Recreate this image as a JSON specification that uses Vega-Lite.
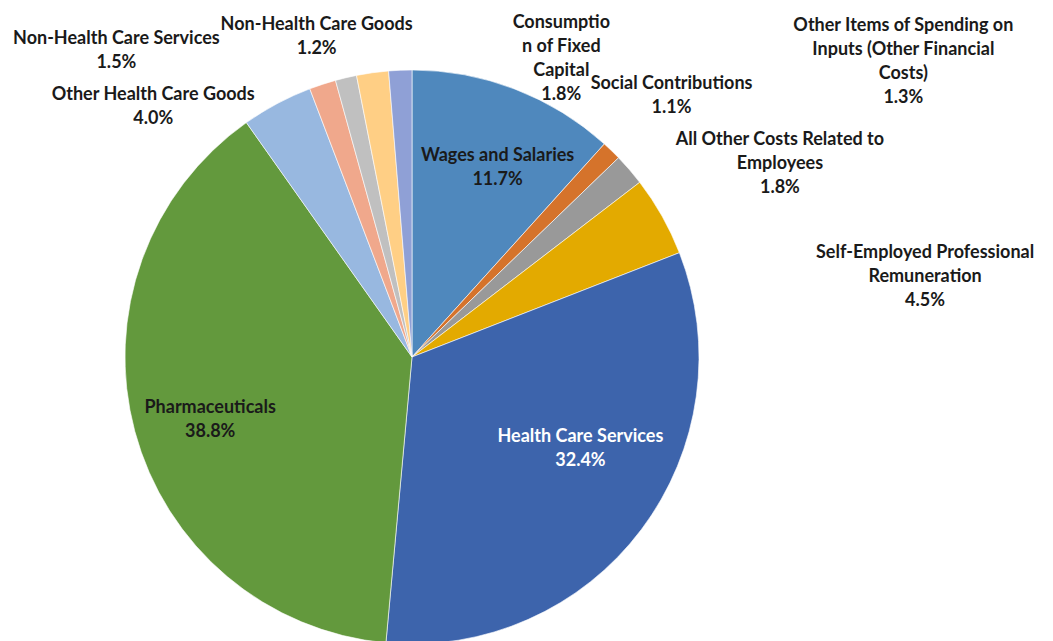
{
  "$schema": "https://vega.github.io/schema/vega-lite/v6.json",
  "width": 824,
  "height": 714,
  "autosize": {"type": "none"},
  "padding": {"left": 0, "top": 0, "right": 229, "bottom": 0},
  "background": "white",
  "config": {
    "view": {"stroke": null},
    "text": {"font": "Lato", "fontWeight": "bold", "fontSize": 18, "lineBreak": "\n", "lineHeight": 24, "align": "center", "baseline": "middle", "color": "#1a1a1a"}
  },
  "data": {
    "values": [
      {"order": 1, "cat": "Wages and Salaries", "label": "Wages and Salaries\n11.7%", "value": 11.7},
      {"order": 2, "cat": "Social Contributions", "label": "Social Contributions\n1.1%", "value": 1.1},
      {"order": 3, "cat": "All Other Costs Related to Employees", "label": "All Other Costs Related to\nEmployees\n1.8%", "value": 1.8},
      {"order": 4, "cat": "Self-Employed Professional Remuneration", "label": "Self-Employed Professional\nRemuneration\n4.5%", "value": 4.5},
      {"order": 5, "cat": "Health Care Services", "label": "Health Care Services\n32.4%", "value": 32.4},
      {"order": 6, "cat": "Pharmaceuticals", "label": "Pharmaceuticals\n38.8%", "value": 38.8},
      {"order": 7, "cat": "Other Health Care Goods", "label": "Other Health Care Goods\n4.0%", "value": 4.0},
      {"order": 8, "cat": "Non-Health Care Services", "label": "Non-Health Care Services\n1.5%", "value": 1.5},
      {"order": 9, "cat": "Non-Health Care Goods", "label": "Non-Health Care Goods\n1.2%", "value": 1.2},
      {"order": 10, "cat": "Consumption of Fixed Capital", "label": "Consumptio\nn of Fixed\nCapital\n1.8%", "value": 1.8},
      {"order": 11, "cat": "Other Items of Spending on Inputs (Other Financial Costs)", "label": "Other Items of Spending on\nInputs (Other Financial\nCosts)\n1.3%", "value": 1.3}
    ]
  },
  "encoding": {
    "theta": {"field": "value", "type": "quantitative", "stack": true},
    "order": {"field": "order", "type": "quantitative", "sort": "ascending"}
  },
  "layer": [
    {
      "mark": {"type": "arc", "outerRadius": 287, "stroke": "#ffffff", "strokeWidth": 0.6},
      "encoding": {
        "color": {
          "field": "cat", "type": "nominal", "legend": null,
          "scale": {
            "domain": ["Wages and Salaries", "Social Contributions", "All Other Costs Related to Employees", "Self-Employed Professional Remuneration", "Health Care Services", "Pharmaceuticals", "Other Health Care Goods", "Non-Health Care Services", "Non-Health Care Goods", "Consumption of Fixed Capital", "Other Items of Spending on Inputs (Other Financial Costs)"],
            "range": ["#4F88BD", "#D5732B", "#999999", "#E3AA00", "#3D64AC", "#63993D", "#98B8E0", "#F0A88C", "#C0C0C0", "#FFCF85", "#8FA0D6"]
          }
        }
      }
    },
    {
      "mark": {"type": "text", "radius": 205, "dx": 12, "dy": -10},
      "encoding": {"text": {"condition": {"test": "datum.cat === 'Wages and Salaries'", "field": "label"}, "value": ""}}
    },
    {
      "mark": {"type": "text", "radius": 192, "dx": 15, "dy": -35, "color": "#ffffff"},
      "encoding": {"text": {"condition": {"test": "datum.cat === 'Health Care Services'", "field": "label"}, "value": ""}}
    },
    {
      "mark": {"type": "text", "radius": 210, "dx": 1, "dy": -3},
      "encoding": {"text": {"condition": {"test": "datum.cat === 'Pharmaceuticals'", "field": "label"}, "value": ""}}
    },
    {
      "mark": {"type": "text", "radius": 310, "dx": 44, "dy": -50},
      "encoding": {"text": {"condition": {"test": "datum.cat === 'Social Contributions'", "field": "label"}, "value": ""}}
    },
    {
      "mark": {"type": "text", "radius": 310, "dx": 133, "dy": -15},
      "encoding": {"text": {"condition": {"test": "datum.cat === 'All Other Costs Related to Employees'", "field": "label"}, "value": ""}}
    },
    {
      "mark": {"type": "text", "radius": 310, "dx": 243, "dy": 48},
      "encoding": {"text": {"condition": {"test": "datum.cat === 'Self-Employed Professional Remuneration'", "field": "label"}, "value": ""}}
    },
    {
      "mark": {"type": "text", "radius": 310, "dx": -113, "dy": 12},
      "encoding": {"text": {"condition": {"test": "datum.cat === 'Other Health Care Goods'", "field": "label"}, "value": ""}}
    },
    {
      "mark": {"type": "text", "radius": 310, "dx": -199, "dy": -23},
      "encoding": {"text": {"condition": {"test": "datum.cat === 'Non-Health Care Services'", "field": "label"}, "value": ""}}
    },
    {
      "mark": {"type": "text", "radius": 310, "dx": -24, "dy": -30},
      "encoding": {"text": {"condition": {"test": "datum.cat === 'Non-Health Care Goods'", "field": "label"}, "value": ""}}
    },
    {
      "mark": {"type": "text", "radius": 310, "dx": 192, "dy": -27},
      "encoding": {"text": {"condition": {"test": "datum.cat === 'Consumption of Fixed Capital'", "field": "label"}, "value": ""}}
    },
    {
      "mark": {"type": "text", "radius": 310, "dx": 504, "dy": -21},
      "encoding": {"text": {"condition": {"test": "datum.cat === 'Other Items of Spending on Inputs (Other Financial Costs)'", "field": "label"}, "value": ""}}
    }
  ]
}
